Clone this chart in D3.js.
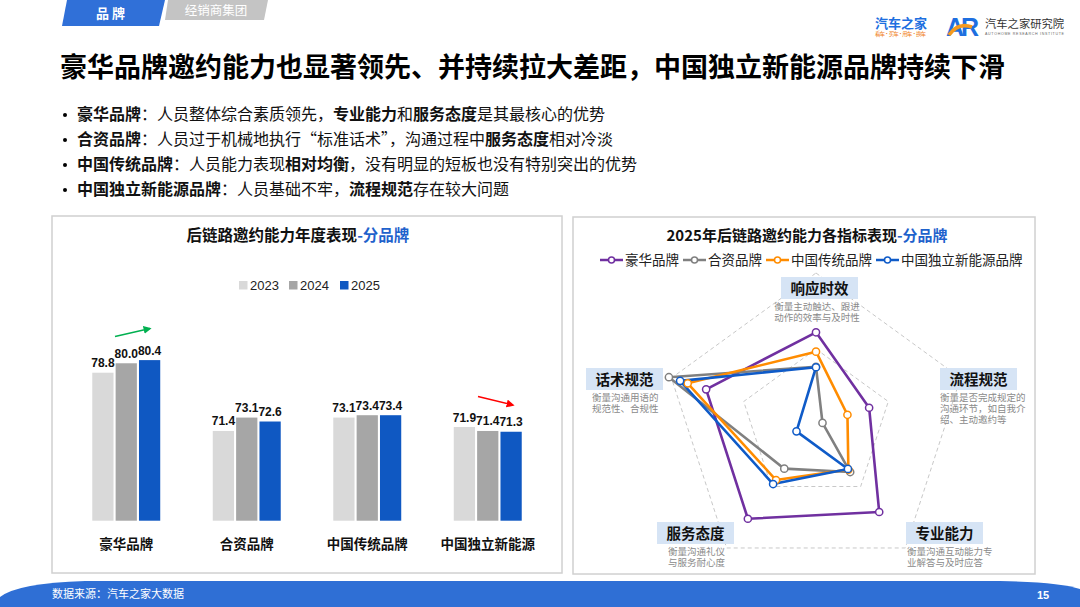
<!DOCTYPE html>
<html>
  <head>
    <meta charset="UTF-8" />
    <script src="https://d3js.org/d3.v7.min.js"></script>
    <style>
      body { margin: 0; background: #fff; }
      svg { display: block; font-family: "Noto Sans CJK SC", sans-serif; }
    </style>
    <title>后链路邀约能力</title>
  </head>
  <body>
    <div id="chart"></div>
    <script type="text/javascript">
      // 数据
      const brands = ["豪华品牌", "合资品牌", "中国传统品牌", "中国独立新能源"];
      const years = ["2023", "2024", "2025"];
      const v2023 = [78.8, 71.4, 73.1, 71.9];
      const v2024 = [80.0, 73.1, 73.4, 71.4];
      const v2025 = [80.4, 72.6, 73.4, 71.3];

      const indicators = ["响应时效", "流程规范", "专业能力", "服务态度", "话术规范"];
      const radarSeries = ["豪华品牌", "合资品牌", "中国传统品牌", "中国独立新能源品牌"];
      const luxury = [84.4, 74.7, 88.3, 90.5, 90.4];
      const joint = [75.3, 61.8, 75.3, 74.2, 100.7];
      const domestic = [79.3, 68.7, 74.5, 77.9, 95.5];
      const nev = [75.2, 54.6, 74.3, 79.2, 97.6];
      const radarTicks = [80, 100];

      const indicatorNotes = [
        ["衡量主动触达、跟进", "动作的效率与及时性"],
        ["衡量是否完成规定的", "沟通环节，如自我介", "绍、主动邀约等"],
        ["衡量沟通互动能力专", "业解答与及时应答"],
        ["衡量沟通礼仪", "与服务耐心度"],
        ["衡量沟通用语的", "规范性、合规性"],
      ];

      const w = 1080, h = 607;
      const yearColors = ["#D9D9D9", "#A6A6A6", "#0F58C2"];
      const radarColors = ["#7030A0", "#808080", "#FF8C00", "#0F5BC8"];
      const numFont = "'Liberation Sans', Arial, 'Noto Sans CJK SC', sans-serif";

      const svg = d3.select("#chart").append("svg").attr("width", w).attr("height", h);

      const defs = svg.append("defs");
      [["arrowG", "#00B050"], ["arrowR", "#FF0000"]].forEach(function (m) {
        defs.append("marker")
          .attr("id", m[0]).attr("viewBox", "0 0 10 10")
          .attr("refX", 8).attr("refY", 5)
          .attr("markerWidth", 5).attr("markerHeight", 5)
          .attr("orient", "auto")
          .append("path").attr("d", "M0,0 L10,5 L0,10 Z").attr("fill", m[1]);
      });

      // 顶部标签
      svg.append("path").attr("d", "M67,0 L165,0 L159,26 L62,26 Z").attr("fill", "#3070D8");
      svg.append("text").attr("x", 112).attr("y", 18).attr("text-anchor", "middle")
        .attr("fill", "#fff").attr("font-size", 13).attr("font-weight", "bold")
        .attr("letter-spacing", 3).text("品牌");
      svg.append("path").attr("d", "M168,0 L268,0 L264,20 L165,20 Z").attr("fill", "#C4C4C4");
      svg.append("text").attr("x", 216).attr("y", 15).attr("text-anchor", "middle")
        .attr("fill", "#fff").attr("font-size", 12.5).text("经销商集团");

      // logo
      svg.append("text").attr("x", 875).attr("y", 28).attr("fill", "#1E6FE0")
        .attr("font-size", 13).attr("font-weight", "bold").text("汽车之家");
      svg.append("text").attr("x", 875).attr("y", 36).attr("fill", "#F08020")
        .attr("font-size", 5.5).attr("textLength", 51).text("看车·买车·用车·换车");
      svg.append("text").attr("x", 946).attr("y", 36).attr("fill", "#1E6FE0")
        .attr("font-size", 25).attr("font-weight", "bold").attr("font-family", numFont)
        .attr("letter-spacing", -3).text("AR");
      svg.append("path").attr("d", "M949,35 Q958,22 972,27").attr("fill", "none")
        .attr("stroke", "#F59A1E").attr("stroke-width", 3.5);
      svg.append("text").attr("x", 985).attr("y", 28).attr("fill", "#333")
        .attr("font-size", 11.3).text("汽车之家研究院");
      svg.append("text").attr("x", 985).attr("y", 35).attr("fill", "#666")
        .attr("font-size", 3.6).attr("font-family", numFont).attr("textLength", 79)
        .text("AUTOHOME  RESEARCH  INSTITUTE");

      // 标题
      svg.append("text").attr("x", 60).attr("y", 77).attr("fill", "#000")
        .attr("font-size", 27).attr("font-weight", "bold")
        .text("豪华品牌邀约能力也显著领先、并持续拉大差距，中国独立新能源品牌持续下滑");

      // 要点
      const bullets = [
        [["豪华品牌", 1], ["：人员整体综合素质领先，", 0], ["专业能力", 1], ["和", 0], ["服务态度", 1], ["是其最核心的优势", 0]],
        [["合资品牌", 1], ["：人员过于机械地执行“标准话术”，沟通过程中", 0], ["服务态度", 1], ["相对冷淡", 0]],
        [["中国传统品牌", 1], ["：人员能力表现", 0], ["相对均衡", 1], ["，没有明显的短板也没有特别突出的优势", 0]],
        [["中国独立新能源品牌", 1], ["：人员基础不牢，", 0], ["流程规范", 1], ["存在较大问题", 0]],
      ];
      bullets.forEach(function (b, i) {
        const yy = 120 + i * 25;
        svg.append("circle").attr("cx", 65).attr("cy", yy - 5).attr("r", 2).attr("fill", "#000");
        const t = svg.append("text").attr("x", 77).attr("y", yy).attr("font-size", 16).attr("fill", "#111");
        b.forEach(function (p) {
          t.append("tspan").attr("font-weight", p[1] ? "bold" : "normal").text(p[0]);
        });
      });

      // 面板
      svg.append("rect").attr("x", 52).attr("y", 216).attr("width", 510).attr("height", 357)
        .attr("fill", "#fff").attr("stroke", "#D0D0D0").attr("stroke-width", 1.5);
      svg.append("rect").attr("x", 573).attr("y", 217).attr("width", 462).attr("height", 357)
        .attr("fill", "#fff").attr("stroke", "#D0D0D0").attr("stroke-width", 1.5);

      // ---------------- 柱状图 ----------------
      const bt = svg.append("text").attr("x", 298).attr("y", 241).attr("text-anchor", "middle")
        .attr("font-size", 15.5).attr("font-weight", "bold");
      bt.append("tspan").attr("fill", "#111").text("后链路邀约能力年度表现");
      bt.append("tspan").attr("fill", "#1F62CC").text("-分品牌");

      const legX = [239, 289, 340];
      years.forEach(function (y, i) {
        svg.append("rect").attr("x", legX[i]).attr("y", 281).attr("width", 8.5).attr("height", 8.5)
          .attr("fill", yearColors[i]);
        svg.append("text").attr("x", legX[i] + 11).attr("y", 290).attr("font-size", 13)
          .attr("font-family", numFont).attr("fill", "#222").text(y);
      });

      const table = brands.map(function (b, i) {
        return { brand: b, vals: [v2023[i], v2024[i], v2025[i]] };
      });

      const x0 = d3.scaleBand().domain(brands).range([66, 548]).paddingInner(0.436).paddingOuter(0.218);
      const x1 = d3.scaleBand().domain(years).range([0, x0.bandwidth()]).paddingInner(0.09);
      const yScale = d3.scaleLinear().domain([60, 85]).range([520.7, 323.9]);

      const groups = svg.selectAll("g.grp").data(table).enter().append("g")
        .attr("class", "grp")
        .attr("transform", function (d) { return "translate(" + x0(d.brand) + ",0)"; });

      groups.selectAll("rect").data(function (d) { return d.vals; }).enter().append("rect")
        .attr("x", function (d, i) { return x1(years[i]); })
        .attr("y", function (d) { return yScale(d); })
        .attr("width", x1.bandwidth())
        .attr("height", function (d) { return yScale(60) - yScale(d); })
        .attr("fill", function (d, i) { return yearColors[i]; });

      groups.selectAll("text.val").data(function (d) { return d.vals; }).enter().append("text")
        .attr("class", "val")
        .attr("x", function (d, i) { return x1(years[i]) + x1.bandwidth() / 2; })
        .attr("y", function (d) { return yScale(d) - 5.5; })
        .attr("text-anchor", "middle")
        .attr("font-size", 12).attr("font-weight", "bold").attr("font-family", numFont)
        .attr("fill", "#111")
        .text(function (d) { return d.toFixed(1); });

      svg.append("g").selectAll("text").data(brands).enter().append("text")
        .attr("x", function (d) { return x0(d) + x0.bandwidth() / 2; })
        .attr("y", 549)
        .attr("text-anchor", "middle").attr("font-size", 13.5).attr("font-weight", "bold")
        .attr("fill", "#111")
        .text(function (d) { return d; });

      // 趋势箭头
      svg.append("line").attr("x1", 115).attr("y1", 336.5).attr("x2", 150).attr("y2", 328.5)
        .attr("stroke", "#00B050").attr("stroke-width", 1.6).attr("marker-end", "url(#arrowG)");
      svg.append("line").attr("x1", 478).attr("y1", 396.5).attr("x2", 513).attr("y2", 405)
        .attr("stroke", "#FF0000").attr("stroke-width", 1.6).attr("marker-end", "url(#arrowR)");

      // ---------------- 雷达图 ----------------
      const rt = svg.append("text").attr("x", 807).attr("y", 241).attr("text-anchor", "middle")
        .attr("font-size", 15).attr("font-weight", "bold");
      rt.append("tspan").attr("fill", "#111").text("2025年后链路邀约能力各指标表现");
      rt.append("tspan").attr("fill", "#1F62CC").text("-分品牌");

      const legItems = [600, 683, 766, 876];
      radarSeries.forEach(function (s, i) {
        const lx = legItems[i];
        svg.append("line").attr("x1", lx).attr("x2", lx + 23).attr("y1", 260).attr("y2", 260)
          .attr("stroke", radarColors[i]).attr("stroke-width", 2.5);
        svg.append("circle").attr("cx", lx + 11.5).attr("cy", 260).attr("r", 3)
          .attr("fill", "#fff").attr("stroke", radarColors[i]).attr("stroke-width", 1.5);
        svg.append("text").attr("x", lx + 25).attr("y", 265).attr("font-size", 13.5)
          .attr("fill", "#222").text(s);
      });

      const cx = 816, cy = 425, R = 152;
      const rScale = d3.scaleLinear().domain([60, 100]).range([0, R]);
      const angle = function (i) { return (i * 2 * Math.PI) / indicators.length; };

      const radar = svg.append("g").attr("transform", "translate(" + cx + "," + cy + ")");

      const ringLine = d3.lineRadial()
        .angle(function (d, i) { return angle(i); })
        .radius(function (d) { return rScale(d); })
        .curve(d3.curveLinearClosed);

      radarTicks.forEach(function (t) {
        radar.append("path")
          .attr("d", ringLine(indicators.map(function () { return t; })))
          .attr("fill", "none").attr("stroke", "#C8C8C8").attr("stroke-width", 1)
          .attr("stroke-dasharray", "4,3");
      });

      const seriesData = [luxury, joint, domestic, nev];
      seriesData.forEach(function (vals, si) {
        radar.append("path").attr("d", ringLine(vals))
          .attr("fill", "none").attr("stroke", radarColors[si])
          .attr("stroke-width", 2.6).attr("stroke-linejoin", "round");
      });
      seriesData.forEach(function (vals, si) {
        radar.selectAll(null).data(vals).enter().append("circle")
          .attr("cx", function (d, i) { return rScale(d) * Math.sin(angle(i)); })
          .attr("cy", function (d, i) { return -rScale(d) * Math.cos(angle(i)); })
          .attr("r", 3.6).attr("fill", "#fff")
          .attr("stroke", radarColors[si]).attr("stroke-width", 1.5);
      });

      // 指标标签
      const labelPos = [
        { x: 781, y: 277, anchor: "middle", nx: 817 },
        { x: 940, y: 368, anchor: "start", nx: 940 },
        { x: 906, y: 522, anchor: "start", nx: 907 },
        { x: 657, y: 522, anchor: "start", nx: 668 },
        { x: 586, y: 368, anchor: "start", nx: 592 },
      ];
      indicators.forEach(function (name, i) {
        const p = labelPos[i];
        svg.append("rect").attr("x", p.x).attr("y", p.y).attr("width", 77).attr("height", 22)
          .attr("fill", "#D6E4F5");
        svg.append("text").attr("x", p.x + 38.5).attr("y", p.y + 16.5).attr("text-anchor", "middle")
          .attr("font-size", 14.5).attr("font-weight", "bold").attr("fill", "#111").text(name);
        // 说明文字：一个 text，多行 tspan
        const note = svg.append("text").attr("x", p.nx).attr("y", p.y + 33)
          .attr("text-anchor", p.anchor).attr("font-size", 9.5).attr("fill", "#8A8A8A");
        indicatorNotes[i].forEach(function (line, k) {
          note.append("tspan").attr("x", p.nx).attr("dy", k === 0 ? 0 : 10.9).text(line);
        });
      });

      // 页脚
      svg.append("path")
        .attr("d", "M0,607 L0,597 Q18,583 85,581 L1000,581 Q1060,582 1080,589 L1080,607 Z")
        .attr("fill", "#2F6FD5");
      svg.append("text").attr("x", 52).attr("y", 598).attr("fill", "#fff")
        .attr("font-size", 11).text("数据来源：汽车之家大数据");
      svg.append("text").attr("x", 1043).attr("y", 599).attr("fill", "#fff")
        .attr("font-size", 11).attr("font-weight", "bold").attr("font-family", numFont)
        .attr("text-anchor", "middle").text("15");
    </script>
  </body>
</html>
